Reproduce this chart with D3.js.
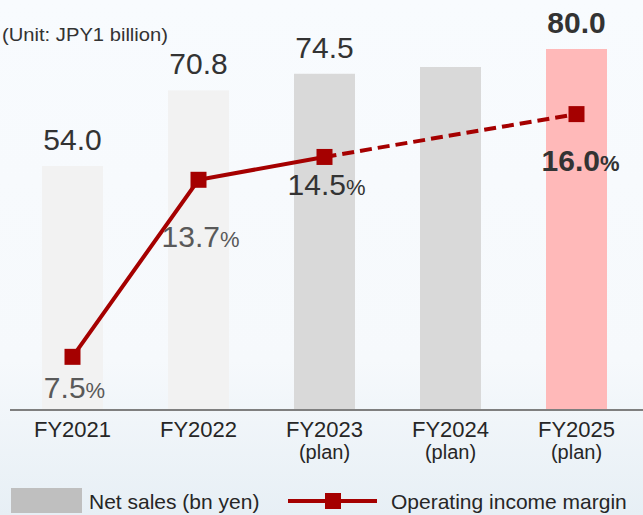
<html>
<script src='https://d3js.org/d3.v7.min.js'></script>
<style>
body { margin: 0; background: #f8fbfe; }
text { font-family: 'Liberation Sans', Arial, sans-serif; }
</style>
<body onload='init()'>
<svg width=643 height=515></svg>
<script>
// chart data
var years = ["FY2021", "FY2022", "FY2023", "FY2024", "FY2025"];
var subLabels = ["", "", "(plan)", "(plan)", "(plan)"];
var netSales = [54.0, 70.8, 74.5, 76.0, 80.0];
var salesLabels = ["54.0", "70.8", "74.5", "", "80.0"];
var margin = [7.5, 13.7, 14.5, null, 16.0];
var marginLabels = ["7.5", "13.7", "14.5", "", "16.0"];

// layout / style helpers (not data)
var barColors = ["#f2f2f2", "#f2f2f2", "#d9d9d9", "#d9d9d9", "#ffb9b9"];
var pctColors = ["#595959", "#595959", "#333333", "#333333", "#333333"];
var pctDy = [41, 67, 38, 57];
var red = "#a50000";

function init() {
  var svg = d3.select("svg");

  // faint background wash at the bottom
  var grad = svg.append("defs").append("linearGradient")
    .attr("id", "bg").attr("x1", 0).attr("y1", 0).attr("x2", 0).attr("y2", 1);
  grad.append("stop").attr("offset", "0%").attr("stop-color", "#f8fbfe");
  grad.append("stop").attr("offset", "70%").attr("stop-color", "#f6f9fc");
  grad.append("stop").attr("offset", "100%").attr("stop-color", "#e7eff5");
  svg.append("rect").attr("width", 643).attr("height", 515).attr("fill", "url(#bg)");

  var x = d3.scaleBand().domain(years).range([9.5, 639.5])
    .paddingInner(0.516).paddingOuter(0.258);
  var y = d3.scaleLinear().domain([0, 90]).range([409, 4]);
  var ym = d3.scaleLinear().domain([0, 18]).range([571, 57]);
  var cx = function(i) { return x(years[i]) + x.bandwidth() / 2; };

  // unit note
  svg.append("text").attr("x", 2).attr("y", 41)
    .attr("font-size", 19).attr("fill", "#333")
    .attr("textLength", 166).attr("lengthAdjust", "spacingAndGlyphs")
    .text("(Unit: JPY1 billion)");

  // bars
  svg.append("g").selectAll("rect").data(netSales).enter().append("rect")
    .attr("x", function(d, i) { return x(years[i]); })
    .attr("y", function(d) { return y(d); })
    .attr("width", x.bandwidth())
    .attr("height", function(d) { return y(0) - y(d); })
    .attr("fill", function(d, i) { return barColors[i]; });

  // bar value labels
  svg.append("g").selectAll("text").data(netSales).enter().append("text")
    .attr("x", function(d, i) { return cx(i); })
    .attr("y", function(d) { return y(d) - 16; })
    .attr("text-anchor", "middle")
    .attr("font-size", 30)
    .attr("font-weight", function(d, i) { return i == 4 ? "bold" : "normal"; })
    .attr("fill", "#333")
    .text(function(d, i) { return salesLabels[i]; });

  // x axis
  var xAxis = svg.append("g").attr("transform", "translate(0,409)")
    .call(d3.axisBottom(x).tickSize(0).tickPadding(0));
  xAxis.select(".domain").remove();
  xAxis.selectAll(".tick text").remove();
  svg.append("line").attr("x1", 10).attr("x2", 643).attr("y1", 410).attr("y2", 410)
    .attr("stroke", "#7f7f7f").attr("stroke-width", 2);
  xAxis.selectAll(".tick").append("text")
    .attr("y", 28).attr("text-anchor", "middle").attr("font-size", 22)
    .attr("fill", "#262626").text(function(d) { return d; });
  xAxis.selectAll(".tick").append("text")
    .attr("y", 50).attr("text-anchor", "middle").attr("font-size", 20)
    .attr("fill", "#262626").text(function(d, i) { return subLabels[i]; });

  // margin line: solid for actuals, dashed to the plan
  var pts = [];
  margin.forEach(function(m, i) { if (m !== null) pts.push({ i: i, v: m }); });
  var line = d3.line().x(function(d) { return cx(d.i); }).y(function(d) { return ym(d.v); });
  svg.append("path").datum(pts.slice(0, 3)).attr("d", line)
    .attr("fill", "none").attr("stroke", red).attr("stroke-width", 4);
  svg.append("path").datum(pts.slice(2)).attr("d", line)
    .attr("fill", "none").attr("stroke", red).attr("stroke-width", 4)
    .attr("stroke-dasharray", "12,6");
  svg.append("g").selectAll("rect").data(pts).enter().append("rect")
    .attr("x", function(d) { return cx(d.i) - 8; })
    .attr("y", function(d) { return ym(d.v) - 8; })
    .attr("width", 16).attr("height", 16).attr("fill", red);

  // margin labels
  var ml = svg.append("g").selectAll("text").data(pts).enter().append("text")
    .attr("x", function(d) { return cx(d.i) + (d.i == 4 ? 4 : 2); })
    .attr("y", function(d, k) { return ym(d.v) + pctDy[k]; })
    .attr("text-anchor", "middle")
    .attr("font-weight", function(d) { return d.i == 4 ? "bold" : "normal"; })
    .attr("fill", function(d) { return pctColors[d.i]; });
  ml.append("tspan").attr("font-size", 30).text(function(d) { return marginLabels[d.i]; });
  ml.append("tspan").attr("font-size", 22).text("%");

  // legend
  var lg = svg.append("g");
  lg.append("rect").attr("x", 11).attr("y", 488).attr("width", 71).attr("height", 25).attr("fill", "#bfbfbf");
  lg.append("text").attr("x", 89).attr("y", 509).attr("font-size", 21).attr("fill", "#262626").text("Net sales (bn yen)");
  lg.append("line").attr("x1", 288).attr("x2", 377).attr("y1", 501).attr("y2", 501)
    .attr("stroke", red).attr("stroke-width", 4);
  lg.append("rect").attr("x", 325).attr("y", 493).attr("width", 16).attr("height", 16).attr("fill", red);
  lg.append("text").attr("x", 391).attr("y", 509).attr("font-size", 21).attr("fill", "#262626").text("Operating income margin");
}
</script>
</body>
</html>
